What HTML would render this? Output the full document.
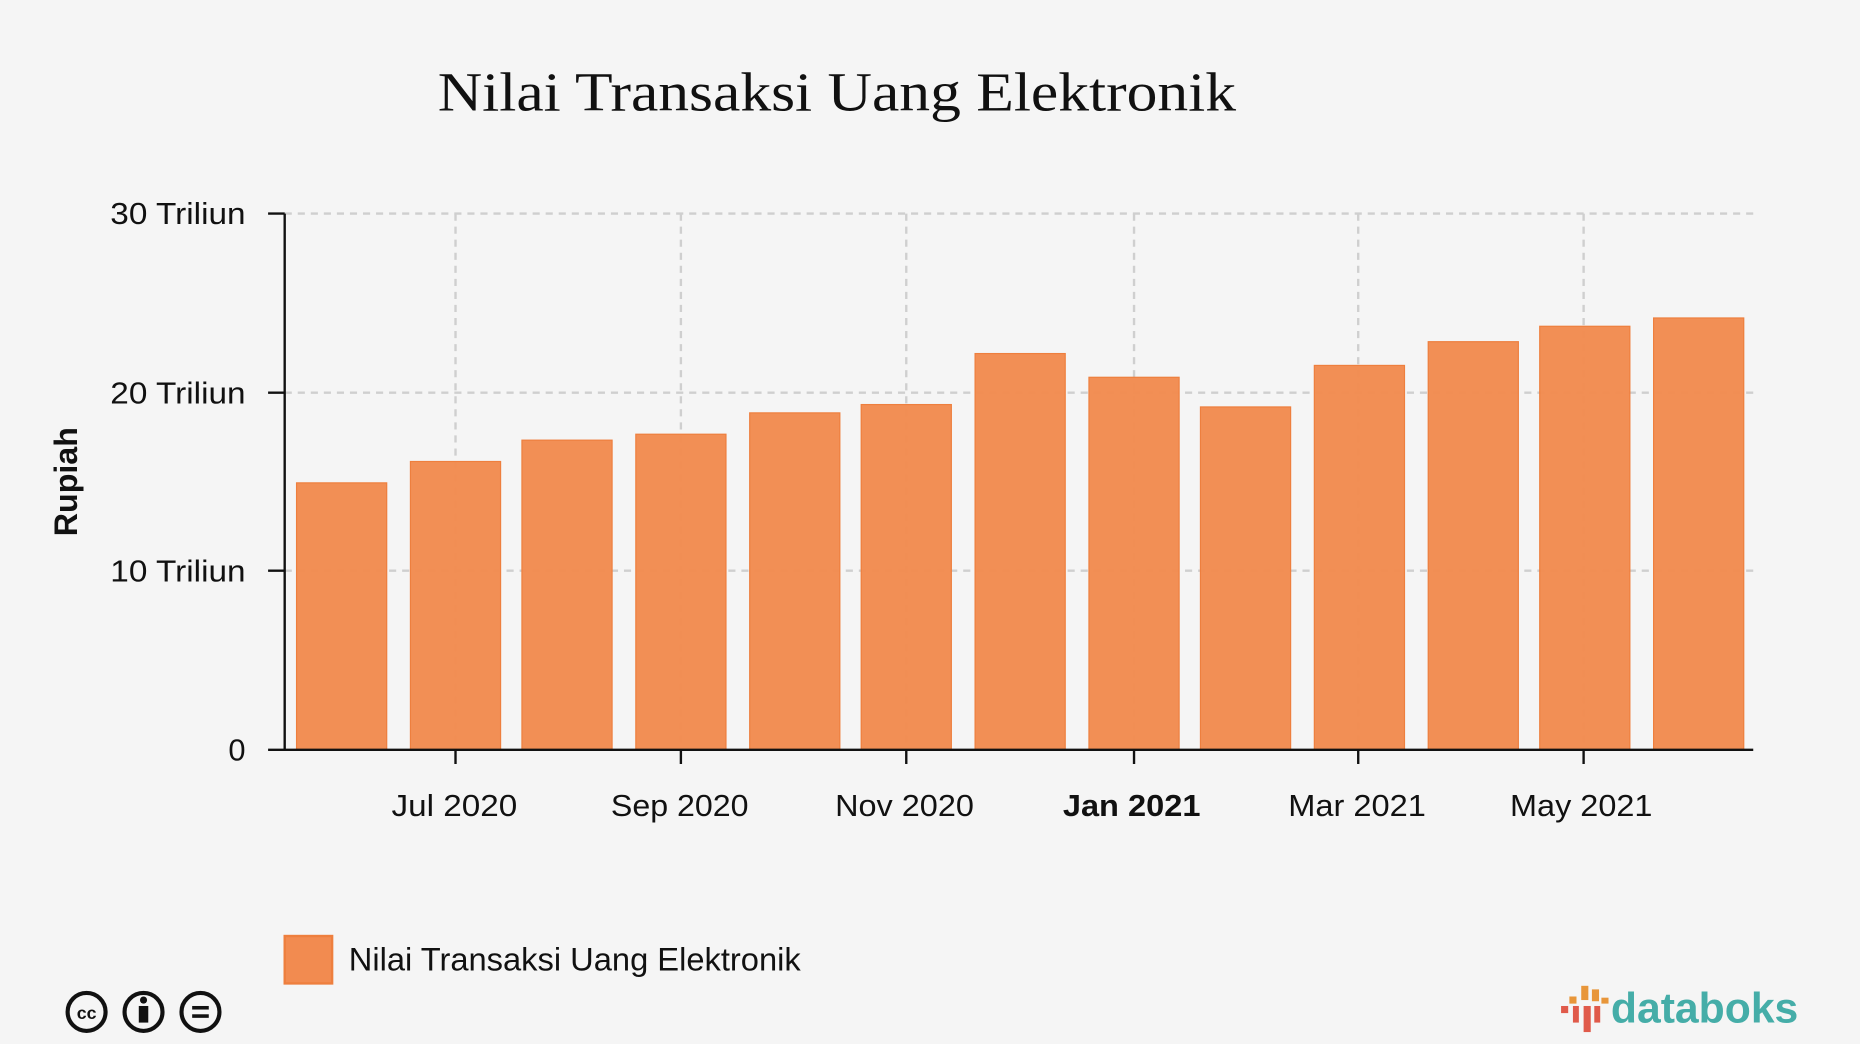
<!DOCTYPE html>
<html><head><meta charset="utf-8"><style>
html,body{margin:0;padding:0;background:#f5f5f5;}
svg{display:block;}
text{font-family:"Liberation Sans",sans-serif;fill:#111;}
</style></head><body>
<svg width="1860" height="1044" viewBox="0 0 1568 880" xmlns="http://www.w3.org/2000/svg">
<rect width="1568" height="880" fill="#f5f5f5"/>
<text x="369" y="93" textLength="673" lengthAdjust="spacingAndGlyphs" style="font-family:'Liberation Serif',serif;font-size:46px">Nilai Transaksi Uang Elektronik</text>
<g stroke="#cfcfcf" stroke-width="2" stroke-dasharray="6,5">
<line x1="240" y1="180" x2="1478" y2="180"/>
<line x1="240" y1="331" x2="1478" y2="331"/>
<line x1="240" y1="481" x2="1478" y2="481"/>
<line x1="384" y1="180" x2="384" y2="632"/>
<line x1="574" y1="180" x2="574" y2="632"/>
<line x1="764" y1="180" x2="764" y2="632"/>
<line x1="956" y1="180" x2="956" y2="632"/>
<line x1="1145" y1="180" x2="1145" y2="632"/>
<line x1="1335" y1="180" x2="1335" y2="632"/>
</g>
<g fill="#f28b50" stroke="#ee7f3e" stroke-width="1" fill-opacity="0.97">
<rect x="250" y="407" width="76" height="225"/>
<rect x="346" y="389" width="76" height="243"/>
<rect x="440" y="371" width="76" height="261"/>
<rect x="536" y="366" width="76" height="266"/>
<rect x="632" y="348" width="76" height="284"/>
<rect x="726" y="341" width="76" height="291"/>
<rect x="822" y="298" width="76" height="334"/>
<rect x="918" y="318" width="76" height="314"/>
<rect x="1012" y="343" width="76" height="289"/>
<rect x="1108" y="308" width="76" height="324"/>
<rect x="1204" y="288" width="76" height="344"/>
<rect x="1298" y="275" width="76" height="357"/>
<rect x="1394" y="268" width="76" height="364"/>
</g>
<g stroke="#111" stroke-width="2">
<line x1="240" y1="180" x2="240" y2="633"/>
<line x1="226" y1="632" x2="1478" y2="632"/>
<line x1="226" y1="180" x2="240" y2="180"/>
<line x1="226" y1="331" x2="240" y2="331"/>
<line x1="226" y1="481" x2="240" y2="481"/>
<line x1="384" y1="632" x2="384" y2="644"/>
<line x1="574" y1="632" x2="574" y2="644"/>
<line x1="764" y1="632" x2="764" y2="644"/>
<line x1="956" y1="632" x2="956" y2="644"/>
<line x1="1145" y1="632" x2="1145" y2="644"/>
<line x1="1335" y1="632" x2="1335" y2="644"/>
</g>
<g font-size="26">
<text x="93" y="189" textLength="114" lengthAdjust="spacingAndGlyphs">30 Triliun</text>
<text x="93" y="340" textLength="114" lengthAdjust="spacingAndGlyphs">20 Triliun</text>
<text x="93" y="490" textLength="114" lengthAdjust="spacingAndGlyphs">10 Triliun</text>
<text x="207" y="641" text-anchor="end">0</text>
</g>
<g font-size="26">
<text x="330" y="688" textLength="106" lengthAdjust="spacingAndGlyphs">Jul 2020</text>
<text x="515" y="688" textLength="116" lengthAdjust="spacingAndGlyphs">Sep 2020</text>
<text x="704" y="688" textLength="117" lengthAdjust="spacingAndGlyphs">Nov 2020</text>
<text x="896" y="688" font-weight="bold" textLength="116" lengthAdjust="spacingAndGlyphs">Jan 2021</text>
<text x="1086" y="688" textLength="116" lengthAdjust="spacingAndGlyphs">Mar 2021</text>
<text x="1273" y="688" textLength="120" lengthAdjust="spacingAndGlyphs">May 2021</text>
</g>
<text transform="translate(65,452) rotate(-90)" font-size="27" font-weight="bold" textLength="92" lengthAdjust="spacingAndGlyphs">Rupiah</text>
<rect x="240" y="789" width="40" height="40" fill="#f28b50" stroke="#ee7f3e" stroke-width="2"/>
<text x="294" y="818" font-size="27.5" textLength="381" lengthAdjust="spacingAndGlyphs">Nilai Transaksi Uang Elektronik</text>
<g fill="none" stroke="#111" stroke-width="3.5">
<circle cx="73" cy="853" r="16"/><circle cx="121" cy="853" r="16"/><circle cx="169" cy="853" r="16"/>
</g>
<text x="73" y="859" text-anchor="middle" font-size="15" font-weight="bold">cc</text>
<circle cx="121" cy="843" r="3" fill="#111"/><rect x="117" y="848" width="8" height="14" fill="#111"/>
<rect x="162" y="848" width="14" height="3" fill="#111"/><rect x="162" y="855" width="14" height="3" fill="#111"/>
<g>
<rect x="1316" y="848" width="6" height="6" fill="#e05a4a"/>
<rect x="1323" y="840" width="6" height="6" fill="#e8963a"/>
<rect x="1326" y="848" width="5" height="14" fill="#e05a4a"/>
<rect x="1333" y="831" width="6" height="12" fill="#e8963a"/>
<rect x="1335" y="848" width="6" height="22" fill="#e05a4a"/>
<rect x="1342" y="834" width="6" height="10" fill="#e8963a"/>
<rect x="1344" y="848" width="5" height="14" fill="#e05a4a"/>
<rect x="1350" y="841" width="6" height="5" fill="#e8963a"/>
</g>
<text x="1358" y="862" font-size="36" font-weight="bold" style="fill:#45ada8">databoks</text>
</svg>
</body></html>
